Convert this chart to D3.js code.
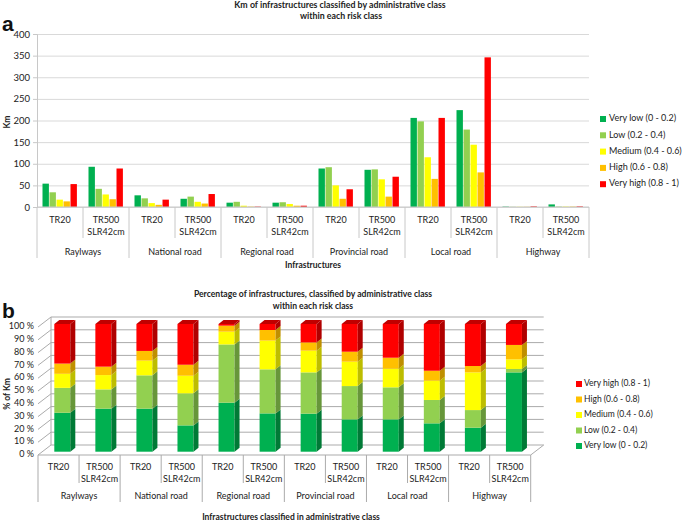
<!DOCTYPE html>
<html>
<head>
<meta charset="utf-8">
<script src="https://cdn.jsdelivr.net/npm/d3@7"></script>
<style>
  body { margin: 0; background: #fff; }
  svg { display: block; font-family: Lato, "Open Sans", sans-serif; }
</style>
</head>
<body>
<svg id="chart" width="685" height="522"></svg>
<script>
// ---------- DATA ----------
const groups = ["Raylways", "National road", "Regional road", "Provincial road", "Local road", "Highway"];
const scenarios = ["TR20", "TR500|SLR42cm"];
const riskClasses = ["Very low (0 - 0.2)", "Low (0.2 - 0.4)", "Medium (0.4 - 0.6)", "High (0.6 - 0.8)", "Very high (0.8 - 1)"];
const riskColors = ["#00B050", "#92D050", "#FFFF00", "#FFC000", "#FF0000"];

// Panel a: km per risk class (12 bars groups: group x scenario)
const kmVeryLow  = [54, 93, 27, 19, 10, 10, 89, 86, 206, 224, 1, 6];
const kmLow      = [34, 42, 20, 24, 12, 11, 92, 87, 198, 179, 0.5, 1];
const kmMedium   = [17, 29, 9, 12, 3, 7, 50, 64, 115, 144, 0.5, 1];
const kmHigh     = [13, 18, 5, 8, 1, 3, 19, 24, 65, 80, 0.5, 1];
const kmVeryHigh = [53, 89, 17, 30, 1, 3, 41, 70, 206, 346, 1.5, 1.5];
const kmTicks = [0, 50, 100, 150, 200, 250, 300, 350, 400];

// Panel b: percentage of km per risk class
const pctVeryLow  = [30.5, 33.7, 33.7, 20.6, 38.4, 30.0, 29.8, 25.3, 25.3, 22.2, 18.8, 62.1];
const pctLow      = [19.5, 15.1, 26.1, 25.1, 45.6, 34.5, 32.3, 26.1, 25.1, 18.3, 13.8, 2.7];
const pctMedium   = [11.0, 11.2, 11.5, 13.8, 10.0, 22.5, 17.0, 19.1, 14.6, 15.1, 29.5, 7.5];
const pctHigh     = [8.0, 6.6, 7.6, 8.6, 4.7, 8.3, 6.5, 7.8, 8.6, 7.8, 5.0, 11.3];
const pctVeryHigh = [31.0, 33.4, 21.1, 31.9, 1.3, 4.7, 14.4, 21.7, 26.4, 36.6, 32.9, 16.4];
const pctTicks = [0, 10, 20, 30, 40, 50, 60, 70, 80, 90, 100];

// ---------- BUILD ----------
const kmSeries = [kmVeryLow, kmLow, kmMedium, kmHigh, kmVeryHigh];
const pctSeries = [pctVeryLow, pctLow, pctMedium, pctHigh, pctVeryHigh];
const bars = [];
groups.forEach((g, gi) => scenarios.forEach((s, si) => bars.push({ group: g, scen: s, idx: gi * 2 + si })));

const svg = d3.select("#chart");
const gridCol = "#d9d9d9";
const sepCol = "#c8c8c8";

// ================= PANEL A =================
const A = { left: 37, right: 589, top: 34, bottom: 207 };
const yA = d3.scaleLinear().domain([0, 400]).range([A.bottom, A.top]);
const xA = d3.scaleBand().domain(d3.range(12)).range([A.left, A.right]).padding(0);
const xAin = d3.scaleBand().domain(d3.range(5)).range([5.5, xA.bandwidth() - 5.5]).padding(0);

const gA = svg.append("g");

// gridlines
gA.append("g")
  .attr("transform", `translate(${A.left},0)`)
  .call(d3.axisLeft(yA).tickValues(kmTicks).tickSize(-(A.right - A.left)).tickFormat(""))
  .call(g => g.select(".domain").remove())
  .call(g => g.selectAll(".tick line").attr("stroke", gridCol));

// left axis with ticks & labels
gA.append("g")
  .attr("transform", `translate(${A.left},0)`)
  .call(d3.axisLeft(yA).tickValues(kmTicks).tickSize(4).tickPadding(3))
  .call(g => g.select(".domain").attr("stroke", sepCol))
  .call(g => g.selectAll(".tick line").attr("stroke", sepCol))
  .call(g => g.selectAll(".tick text").attr("font-size", 9.5).attr("fill", "#222").attr("font-family", "Lato"));

// bars
bars.forEach(b => {
  kmSeries.forEach((ser, k) => {
    gA.append("rect")
      .attr("x", xA(b.idx) + xAin(k))
      .attr("width", xAin.bandwidth() - 0.6)
      .attr("y", yA(ser[b.idx]))
      .attr("height", yA(0) - yA(ser[b.idx]))
      .attr("fill", riskColors[k]);
  });
});

// bottom axis line
gA.append("line").attr("x1", A.left).attr("x2", A.right).attr("y1", A.bottom).attr("y2", A.bottom).attr("stroke", sepCol);
// separators
for (let i = 0; i <= 12; i++) {
  const x = i < 12 ? xA(i) : A.right;
  const isGroup = i % 2 === 0;
  gA.append("line").attr("x1", x).attr("x2", x).attr("y1", A.bottom).attr("y2", isGroup ? 258 : 238).attr("stroke", sepCol);
}
// scenario labels
bars.forEach(b => {
  const cx = xA(b.idx) + xA.bandwidth() / 2;
  const lines = b.scen.split("|");
  lines.forEach((t, li) => {
    gA.append("text").attr("x", cx).attr("y", 220.5 + li * 12.5).attr("text-anchor", "middle")
      .attr("dominant-baseline", "middle").attr("font-size", 9).attr("fill", "#222").text(t);
  });
});
// group labels
groups.forEach((g, gi) => {
  const cx = xA(gi * 2) + xA.bandwidth();
  gA.append("text").attr("x", cx).attr("y", 253).attr("text-anchor", "middle").attr("dominant-baseline", "middle")
    .attr("font-size", 9).attr("fill", "#222").text(g);
});
// axis title
gA.append("text").attr("x", 313).attr("y", 265.5).attr("text-anchor", "middle").attr("dominant-baseline", "middle")
  .attr("font-size", 8.5).attr("font-weight", "bold").attr("fill", "#222").text("Infrastructures");
gA.append("text").attr("transform", "translate(8,122) rotate(-90)").attr("text-anchor", "middle").attr("dominant-baseline", "middle")
  .attr("font-size", 8.5).attr("font-weight", "bold").attr("fill", "#222").text("Km");
// title
gA.append("text").attr("x", 340).attr("y", 5.5).attr("text-anchor", "middle").attr("dominant-baseline", "middle")
  .attr("font-size", 8.8).attr("font-weight", "bold").attr("fill", "#222").text("Km of infrastructures classified by administrative class");
gA.append("text").attr("x", 341).attr("y", 17).attr("text-anchor", "middle").attr("dominant-baseline", "middle")
  .attr("font-size", 8.8).attr("font-weight", "bold").attr("fill", "#222").text("within each risk class");
gA.append("text").attr("x", 2).attr("y", 31).attr("font-size", 21).attr("font-weight", "bold")
  .attr("font-family", "Liberation Sans").attr("fill", "#111").text("a");

// legend a
riskClasses.forEach((r, k) => {
  const y = 119 + k * 16.3;
  gA.append("rect").attr("x", 600).attr("y", y - 3).attr("width", 6).attr("height", 6).attr("fill", riskColors[k]);
  gA.append("text").attr("x", 609).attr("y", y).attr("dominant-baseline", "middle").attr("font-size", 9)
    .attr("fill", "#222").text(r);
});

// ================= PANEL B =================
const gB = svg.append("g");
const B = { left: 38, right: 530.7 };
const wallDx = 13, wallDy = -10;
const yWall = d3.scaleLinear().domain([0, 100]).range([455, 327]);
const yBar = d3.scaleLinear().domain([0, 100]).range([451.7, 324]);
const xB = d3.scaleBand().domain(d3.range(12)).range([B.left, B.right]).padding(0);
const barW = 16, barOff = 16.3, sideDx = 5, sideDy = -4;
const wallCol = "#ababab";

// walls gridlines
pctTicks.forEach(p => {
  const yf = yWall(p);
  gB.append("line").attr("x1", B.left).attr("y1", yf).attr("x2", B.left + wallDx).attr("y2", yf + wallDy).attr("stroke", wallCol);
  gB.append("line").attr("x1", B.left + wallDx).attr("y1", yf + wallDy).attr("x2", B.right + wallDx).attr("y2", yf + wallDy).attr("stroke", wallCol);
  gB.append("text").attr("x", 34).attr("y", yf).attr("text-anchor", "end").attr("dominant-baseline", "middle")
    .attr("font-size", 9).attr("fill", "#222").text(p + " %");
});
// left wall edges
gB.append("line").attr("x1", B.left + wallDx).attr("y1", yWall(0) + wallDy).attr("x2", B.left + wallDx).attr("y2", yWall(100) + wallDy).attr("stroke", wallCol);
// floor
gB.append("line").attr("x1", B.left).attr("y1", yWall(0)).attr("x2", B.right).attr("y2", yWall(0)).attr("stroke", wallCol);
gB.append("line").attr("x1", B.right).attr("y1", yWall(0)).attr("x2", B.right + wallDx).attr("y2", yWall(0) + wallDy).attr("stroke", wallCol);

// 3D bars
const darkSide = ["#007A36", "#67963A", "#BDBD00", "#BF8F00", "#B00000"];
const topCol = ["#00A049", "#86C04A", "#E6E600", "#E6AC00", "#C00000"];
bars.forEach(b => {
  const x0 = xB(b.idx) + barOff;
  const x1 = x0 + barW;
  let cum = 0;
  pctSeries.forEach((ser, k) => {
    const v = ser[b.idx];
    const yb = yBar(cum), yt = yBar(cum + v);
    cum += v;
    gB.append("rect").attr("x", x0).attr("y", yt).attr("width", barW).attr("height", yb - yt).attr("fill", riskColors[k]);
    gB.append("path").attr("d", `M${x1},${yt}L${x1 + sideDx},${yt + sideDy}L${x1 + sideDx},${yb + sideDy}L${x1},${yb}Z`)
      .attr("fill", darkSide[k]);
  });
  const yt = yBar(cum);
  gB.append("path").attr("d", `M${x0},${yt}L${x1},${yt}L${x1 + sideDx},${yt + sideDy}L${x0 + sideDx},${yt + sideDy}Z`)
    .attr("fill", topCol[4]);
});

// x axis separators b
for (let i = 0; i <= 12; i++) {
  const x = i < 12 ? xB(i) : B.right;
  const isGroup = i % 2 === 0;
  gB.append("line").attr("x1", x).attr("x2", x).attr("y1", yWall(0)).attr("y2", isGroup ? 502 : 483).attr("stroke", wallCol);
}
bars.forEach(b => {
  const cx = xB(b.idx) + xB.bandwidth() / 2;
  b.scen.split("|").forEach((t, li) => {
    gB.append("text").attr("x", cx).attr("y", 467.5 + li * 12).attr("text-anchor", "middle")
      .attr("dominant-baseline", "middle").attr("font-size", 9).attr("fill", "#222").text(t);
  });
});
groups.forEach((g, gi) => {
  const cx = xB(gi * 2) + xB.bandwidth();
  gB.append("text").attr("x", cx).attr("y", 496.5).attr("text-anchor", "middle").attr("dominant-baseline", "middle")
    .attr("font-size", 9).attr("fill", "#222").text(g);
});
gB.append("text").attr("x", 291).attr("y", 517.5).attr("text-anchor", "middle").attr("dominant-baseline", "middle")
  .attr("font-size", 8.5).attr("font-weight", "bold").attr("fill", "#222").text("Infrastructures classified in administrative class");
gB.append("text").attr("transform", "translate(8,394) rotate(-90)").attr("text-anchor", "middle").attr("dominant-baseline", "middle")
  .attr("font-size", 8.5).attr("font-weight", "bold").attr("fill", "#222").text("% of Km");
gB.append("text").attr("x", 313).attr("y", 295).attr("text-anchor", "middle").attr("dominant-baseline", "middle")
  .attr("font-size", 8.6).attr("font-weight", "bold").attr("fill", "#222").text("Percentage of infrastructures, classified by administrative class");
gB.append("text").attr("x", 313).attr("y", 306.5).attr("text-anchor", "middle").attr("dominant-baseline", "middle")
  .attr("font-size", 8.6).attr("font-weight", "bold").attr("fill", "#222").text("within each risk class");
gB.append("text").attr("x", 2).attr("y", 318).attr("font-size", 21).attr("font-weight", "bold")
  .attr("font-family", "Liberation Sans").attr("fill", "#111").text("b");

// legend b (reversed)
riskClasses.slice().reverse().forEach((r, i) => {
  const k = 4 - i;
  const y = 384 + i * 15.5;
  gB.append("rect").attr("x", 576).attr("y", y - 3).attr("width", 6).attr("height", 6).attr("fill", riskColors[k]);
  gB.append("text").attr("x", 584).attr("y", y).attr("dominant-baseline", "middle").attr("font-size", 8.5)
    .attr("fill", "#222").text(r);
});
</script>
</body>
</html>
